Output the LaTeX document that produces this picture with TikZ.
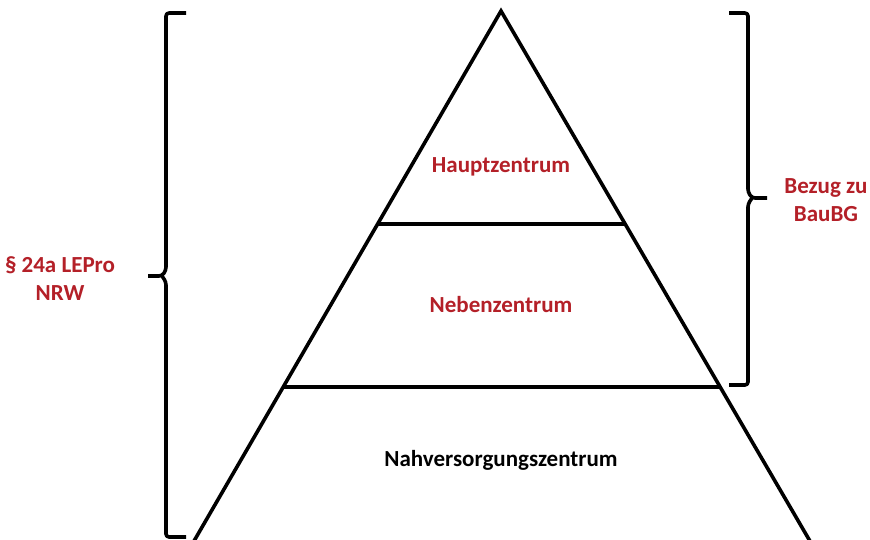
\documentclass[tikz,border=0pt]{standalone}
\usepackage{fontspec}
\setmainfont{Carlito}
\definecolor{lblred}{RGB}{180,32,40}
\begin{document}
\begin{tikzpicture}[x=1pt,y=-1pt,
  ln/.style={line width=3.6pt,black},
  br/.style={line width=3.6pt,black,rounded corners=3pt,line join=round},
  lbl/.style={font=\bfseries\fontsize{23}{28}\selectfont,align=center,inner sep=0pt},
  redlbl/.style={lbl,text=lblred}]
\useasboundingbox (0,0) rectangle (870,539);
\clip (0,0) rectangle (870,539);
\fill[white] (0,0) rectangle (870,539);
% triangle
\coordinate (apex) at (501,11);
\coordinate (bl) at (183,560);
\coordinate (brt) at (821,560);
\coordinate (h1l) at (378,224);
\coordinate (h1r) at (625,224);
\coordinate (h2l) at (282,387);
\coordinate (h2r) at (721,387);
\draw[ln,line join=miter] (bl) -- (apex) -- (brt);
\draw[ln] (h1l) -- (h1r);
\draw[ln] (h2l) -- (h2r);
% labels
\node[redlbl] (haupt) at (501,167) {Hauptzentrum};
\node[redlbl] (neben) at (501,305) {Nebenzentrum};
\node[lbl] (nahv) at (501,460) {Nahversorgungszentrum};
\node[redlbl] (lepro) at (60,279) {§ 24a LEPro\\NRW};
\node[redlbl] (bezug) at (826,200) {Bezug zu\\BauBG};
% left brace
\coordinate (lbt) at (186,13);
\coordinate (lbb) at (186,537);
\coordinate (lbtip) at (148,276);
\draw[br] (lbt) -- (166,13) -- (166,270) -- (162,276) -- (lbtip);
\draw[br] (162,276) -- (166,282) -- (166,537) -- (lbb);
% right brace
\coordinate (rbt) at (729,13);
\coordinate (rbb) at (729,385);
\coordinate (rbtip) at (767,198);
\draw[br] (rbt) -- (748,13) -- (748,192) -- (752,198) -- (rbtip);
\draw[br] (752,198) -- (748,204) -- (748,385) -- (rbb);
\end{tikzpicture}
\end{document}
